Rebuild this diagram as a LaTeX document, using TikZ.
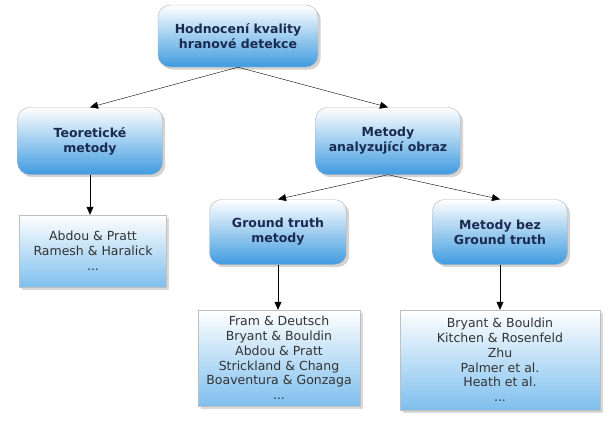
\documentclass[tikz,border=0pt]{standalone}
\usepackage{fontspec}
\setmainfont{DejaVu Sans}
\usetikzlibrary{shadows,arrows.meta}
\definecolor{navy}{HTML}{1A2A50}
\definecolor{bblue}{HTML}{3F9BE0}
\definecolor{lblue}{HTML}{7EBFEE}
\tikzset{
 px/.style={x=1pt,y=-1pt},
 head/.style={rounded corners=12pt,draw=gray!60,top color=white,bottom color=bblue,
   drop shadow={opacity=0.35},font=\bfseries\fontsize{12.5}{15}\selectfont,text=navy,align=center},
 leaf/.style={draw=gray!50,top color=white,bottom color=lblue,drop shadow={opacity=0.3},
   font=\fontsize{12.5}{14.8}\selectfont,text=black!80,align=center,inner sep=2pt},
 conn/.style={-{Triangle[length=8pt,width=7pt]},black,thin}
}
\begin{document}
\begin{tikzpicture}[px]
\useasboundingbox (0,0) rectangle (615,431);
\node[head,minimum width=160pt,minimum height=62pt] (top) at (238,36) {Hodnocení kvality\\hranové detekce};
\node[head,minimum width=145pt,minimum height=67pt] (teo) at (90,141) {Teoretické\\metody};
\node[head,minimum width=145pt,minimum height=67pt] (ana) at (388,141) {Metody\\analyzující obraz};
\node[head,minimum width=137pt,minimum height=65pt] (gt) at (278,232) {Ground truth\\metody};
\node[head,minimum width=135pt,minimum height=65pt] (ngt) at (500,232) {Metody bez\\Ground truth};
\node[leaf,minimum width=147pt,minimum height=72pt] (l1) at (93,251) {Abdou \& Pratt\\Ramesh \& Haralick\\...};
\node[leaf,minimum width=162pt,minimum height=96pt] (l2) at (279,358) {Fram \& Deutsch\\Bryant \& Bouldin\\Abdou \& Pratt\\Strickland \& Chang\\Boaventura \& Gonzaga\\...};
\node[leaf,minimum width=200pt,minimum height=100pt] (l3) at (500,360) {Bryant \& Bouldin\\Kitchen \& Rosenfeld\\Zhu\\Palmer et al.\\Heath et al.\\...};
\draw[conn] (top.south) -- (teo.north);
\draw[conn] (top.south) -- (ana.north);
\draw[conn] (ana.south) -- (gt.north);
\draw[conn] (ana.south) -- (ngt.north);
\draw[conn] (teo.south) -- (teo.south|-l1.north);
\draw[conn] (gt.south) -- (gt.south|-l2.north);
\draw[conn] (ngt.south) -- (ngt.south|-l3.north);
\end{tikzpicture}
\end{document}
